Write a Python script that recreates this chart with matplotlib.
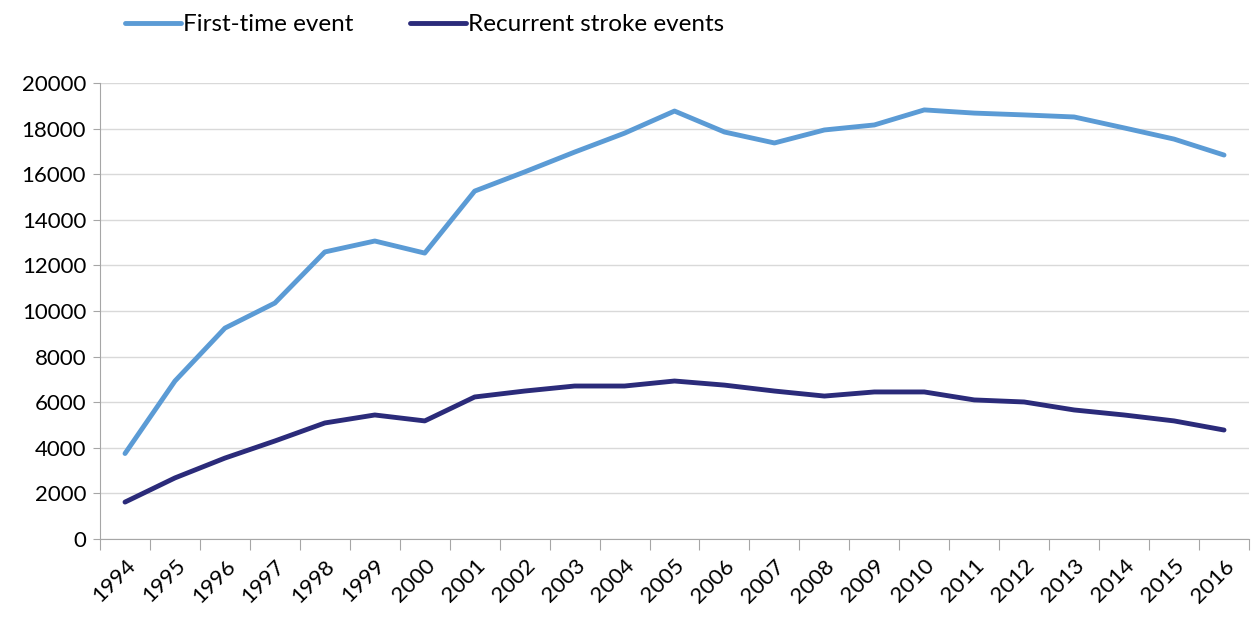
import matplotlib
matplotlib.use('Agg')
import matplotlib.pyplot as plt
import numpy as np

years = [str(y) for y in range(1994, 2017)]
first_time = [3750, 6930, 9250, 10350, 12590, 13070, 12540, 15260, 16100, 16970,
              17800, 18770, 17850, 17370, 17940, 18160, 18820, 18680, 18600, 18510,
              18030, 17540, 16840]
recurrent = [1620, 2680, 3550, 4300, 5090, 5440, 5180, 6230, 6490, 6710,
             6710, 6930, 6750, 6490, 6270, 6450, 6450, 6100, 6010, 5660,
             5440, 5180, 4780]

plt.rcParams['font.family'] = ['Lato', 'DejaVu Sans']

fig = plt.figure(figsize=(12.52, 6.18), dpi=100)
ax = fig.add_axes([0.0799, 0.1278, 0.9177, 0.7379])

x = np.arange(len(years))
ax.plot(x, first_time, color='#5b9bd5', lw=3.5, label='First-time event', solid_capstyle='round')
ax.plot(x, recurrent, color='#2b2b7a', lw=3.5, label='Recurrent stroke events', solid_capstyle='round')

ax.set_xlim(-0.5, len(years) - 0.5)
ax.set_ylim(0, 20000)
ax.set_yticks(range(0, 20001, 2000))
ax.tick_params(axis='y', labelsize=16, length=5, color='#a6a6a6', pad=5)

# tick marks between categories, labels at category centres
ax.set_xticks(np.arange(-0.5, len(years), 1))
ax.set_xticklabels([])
ax.tick_params(axis='x', which='major', length=8, color='#a6a6a6')
ax.set_xticks(x, minor=True)
ax.set_xticklabels(years, minor=True, rotation=45, ha='right', rotation_mode='anchor', fontsize=16)
ax.tick_params(axis='x', which='minor', length=0, pad=12)

ax.grid(axis='y', color='#d9d9d9', lw=1)
ax.set_axisbelow(True)
for s in ['top', 'right']:
    ax.spines[s].set_visible(False)
for s in ['left', 'bottom']:
    ax.spines[s].set_color('#a6a6a6')

fig.legend(loc='upper left', bbox_to_anchor=(0.0825, 1.012), ncol=2, frameon=False,
           fontsize=17.5, handlelength=2.3, handletextpad=0.1, columnspacing=2.3)

fig.savefig('out.png', dpi=100)
